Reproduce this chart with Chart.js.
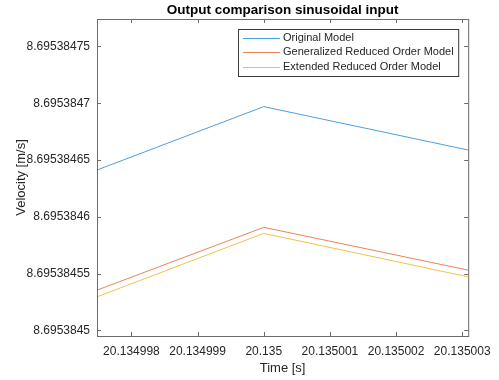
<!DOCTYPE html>
<html>
<head>
<meta charset="utf-8">
<script src="https://cdn.jsdelivr.net/npm/chart.js@4"></script>
<style>
  html, body { margin:0; padding:0; background:#fff; }
  #wrap { width:499px; height:380px; }
</style>
</head>
<body>
<div id="wrap"><canvas id="chart"></canvas></div>
<script>
// —————— DATA ——————
const timeValues     = [20.13499748, 20.135, 20.13500309];
const originalModel  = [8.6953846412, 8.695384697, 8.6953846588];
const generalizedROM = [8.6953845354, 8.6953845907, 8.695384553];
const extendedROM    = [8.6953845295, 8.6953845854, 8.6953845471];

const seriesLabels = ['Original Model', 'Generalized Reduced Order Model', 'Extended Reduced Order Model'];

const xTicks      = [20.134998, 20.134999, 20.135, 20.135001, 20.135002, 20.135003];
const xTickLabels = ['20.134998', '20.134999', '20.135', '20.135001', '20.135002', '20.135003'];
const yTicks      = [8.6953845, 8.69538455, 8.6953846, 8.69538465, 8.6953847, 8.69538475];
const yTickLabels = ['8.6953845', '8.69538455', '8.6953846', '8.69538465', '8.6953847', '8.69538475'];

const xMin = 20.13499748, xMax = 20.13500309;
const yMin = 8.695384495, yMax = 8.6953847742;

const chartTitle = 'Output comparison sinusoidal input';

// —————— STYLE ——————
const FONT = "'Liberation Sans', Arial, Helvetica, sans-serif";
const TEXT = '#262626';
const AXIS = '#6b6b6b';
const colors = ['#4c9fdb', '#e8845a', '#f0c24c'];

function pts(ys) { return timeValues.map((t, i) => ({ x: t, y: ys[i] })); }

// MATLAB-like title, box, inward ticks and legend
const matlabAxes = {
  id: 'matlabAxes',
  afterDraw(chart) {
    const { ctx, chartArea: a, scales } = chart;
    ctx.save();

    // title centred over the axes
    ctx.font = 'bold 13.5px ' + FONT;
    ctx.fillStyle = '#000';
    ctx.textAlign = 'center';
    ctx.textBaseline = 'middle';
    ctx.fillText(chartTitle, (a.left + a.right) / 2, 10);

    ctx.strokeStyle = AXIS;
    ctx.lineWidth = 1;
    ctx.strokeRect(a.left + 0.5, a.top + 0.5, a.right - a.left, a.bottom - a.top);
    const tl = 4;
    ctx.beginPath();
    xTicks.forEach(v => {
      const px = Math.round(scales.x.getPixelForValue(v)) + 0.5;
      ctx.moveTo(px, a.bottom); ctx.lineTo(px, a.bottom - tl);
      ctx.moveTo(px, a.top);    ctx.lineTo(px, a.top + tl);
    });
    yTicks.forEach(v => {
      const py = Math.round(scales.y.getPixelForValue(v)) + 0.5;
      ctx.moveTo(a.left, py);  ctx.lineTo(a.left + tl, py);
      ctx.moveTo(a.right, py); ctx.lineTo(a.right - tl, py);
    });
    ctx.stroke();

    // legend
    ctx.font = '11px ' + FONT;
    const ds = chart.data.datasets;
    const tw = Math.max(...ds.map(d => ctx.measureText(d.label).width));
    const sampleLen = 37, rowH = 14.5;
    const w = tw + sampleLen + 13, h = rowH * ds.length + 3;
    const right = a.right - 10, top = a.top + 10;
    const left = Math.round(right - w);
    ctx.fillStyle = '#fff';
    ctx.fillRect(left, top, right - left, h);
    ctx.strokeStyle = '#3a3a3a';
    ctx.strokeRect(left + 0.5, top + 0.5, right - left, Math.round(h));
    ds.forEach((d, i) => {
      const cy = top + 8.7 + i * rowH;
      ctx.strokeStyle = d.borderColor;
      ctx.beginPath();
      ctx.moveTo(left + 5, Math.round(cy) + 0.5);
      ctx.lineTo(left + 5 + sampleLen, Math.round(cy) + 0.5);
      ctx.stroke();
      ctx.fillStyle = TEXT;
      ctx.textBaseline = 'middle';
      ctx.textAlign = 'left';
      ctx.fillText(d.label, left + sampleLen + 8, cy);
    });
    ctx.restore();
  }
};

new Chart(document.getElementById('chart'), {
  type: 'line',
  data: {
    datasets: [
      { label: seriesLabels[0], data: pts(originalModel),  borderColor: colors[0] },
      { label: seriesLabels[1], data: pts(generalizedROM), borderColor: colors[1] },
      { label: seriesLabels[2], data: pts(extendedROM),    borderColor: colors[2] }
    ]
  },
  options: {
    responsive: true,
    maintainAspectRatio: false,
    animation: false,
    layout: { padding: { top: 19, right: 25, left: 0, bottom: 0 } },
    elements: {
      line: { borderWidth: 1, tension: 0, fill: false },
      point: { radius: 0, hoverRadius: 0 }
    },
    plugins: {
      legend: { display: false },
      tooltip: { enabled: false },
      title: { display: false }
    },
    scales: {
      x: {
        type: 'linear',
        min: xMin, max: xMax,
        bounds: 'data',
        grid: { display: false, drawTicks: false },
        border: { display: false },
        afterBuildTicks: s => { s.ticks = xTicks.map(v => ({ value: v })); },
        afterFit: s => { s.height = 44; },
        ticks: {
          autoSkip: false, maxRotation: 0, padding: 8,
          color: TEXT, font: { family: FONT, size: 12 },
          callback: (v, i) => xTickLabels[i]
        },
        title: {
          display: true, text: 'Time [s]', color: TEXT,
          font: { family: FONT, size: 13 }, padding: { top: 0, bottom: 4 }
        }
      },
      y: {
        type: 'linear',
        min: yMin, max: yMax,
        bounds: 'data',
        grid: { display: false, drawTicks: false },
        border: { display: false },
        afterBuildTicks: s => { s.ticks = yTicks.map(v => ({ value: v })); },
        afterFit: s => { s.width = 97; },
        ticks: {
          autoSkip: false, padding: 7,
          color: TEXT, font: { family: FONT, size: 12 },
          callback: (v, i) => yTickLabels[i]
        },
        title: {
          display: true, text: 'Velocity [m/s]', color: TEXT,
          font: { family: FONT, size: 13 }, padding: { top: 14, bottom: 0 }
        }
      }
    }
  },
  plugins: [matlabAxes]
});
</script>
</body>
</html>
